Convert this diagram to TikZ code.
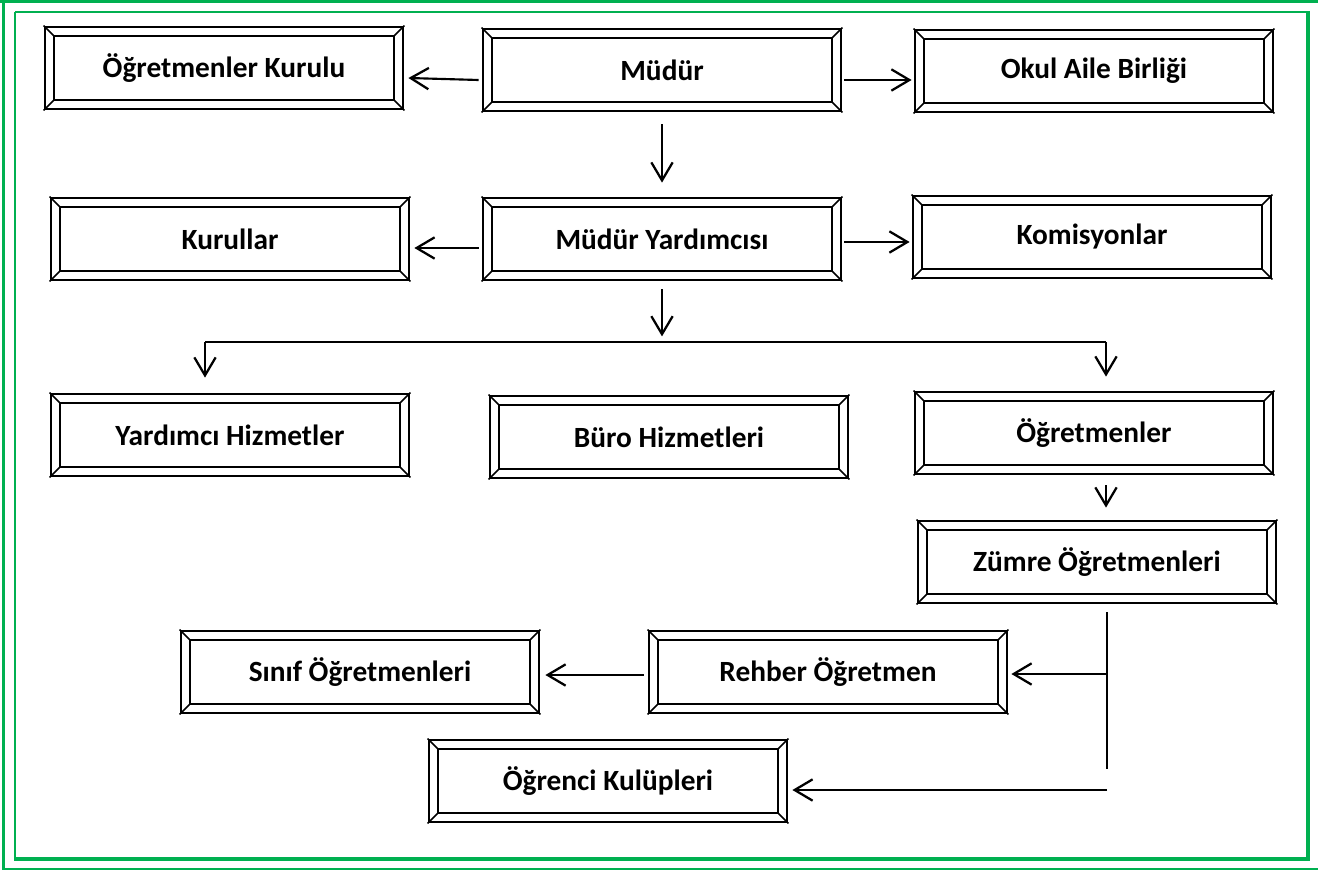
\documentclass[tikz,border=0pt]{standalone}
\usepackage{fontspec}
\setmainfont{Carlito}
\usetikzlibrary{arrows.meta}
\definecolor{frameGreen}{RGB}{0,176,80}
\newcommand\bevelbox[1]{%
  \draw[line width=1.9pt] ([shift={(10.5,10.5)}]#1.north west) rectangle ([shift={(-10.5,-10.5)}]#1.south east);
  \draw[line width=1.2pt] (#1.north west) -- ++(10.5,10.5);
  \draw[line width=1.2pt] (#1.north east) -- ++(-10.5,10.5);
  \draw[line width=1.2pt] (#1.south west) -- ++(10.5,-10.5);
  \draw[line width=1.2pt] (#1.south east) -- ++(-10.5,-10.5);
}
\begin{document}
\begin{tikzpicture}[x=0.75pt,y=-0.75pt,
  orgbox/.style={draw, line width=2.1pt, minimum width=268.5pt, minimum height=61.5pt,
    inner sep=0pt, font=\bfseries\fontsize{22}{24}\selectfont},
  arr/.style={line width=1.6pt, -{Straight Barb[length=13.5pt,width=16pt,line width=1.7pt]}},
  thinarr/.style={line width=1.3pt, -{Straight Barb[length=13.5pt,width=16pt,line width=1.7pt]}},
  thinline/.style={line width=1.1pt},
]
\useasboundingbox (0,0) rectangle (1318,870);
% page border
\draw[frameGreen, line width=2.2pt] (0,1.4) -- (1318,1.4);
\draw[frameGreen, line width=2.7pt] (3.6,0) -- (3.6,870);
\draw[frameGreen, line width=1pt] (3.6,869) -- (1318,869);
\draw[frameGreen, line width=1.6pt] (15,12) -- (15,858.7);
\draw[frameGreen, line width=1.6pt] (15,12) -- (1308,12);
\draw[frameGreen, line width=3pt] (1308,11) -- (1308,860.7);
\draw[frameGreen, line width=3pt] (14,858.7) -- (1310,858.7);

% boxes
\node[orgbox] (OK)  at (224,68)  {Öğretmenler Kurulu};
\node[orgbox] (MUD) at (662,70)  {Müdür};
\node[orgbox] (OAB) at (1094,71) {Okul Aile Birliği};
\node[orgbox] (KUR) at (230,239) {Kurullar};
\node[orgbox] (MY)  at (662,239) {Müdür Yardımcısı};
\node[orgbox] (KOM) at (1092,237) {Komisyonlar};
\node[orgbox] (YH)  at (230,435) {Yardımcı Hizmetler};
\node[orgbox] (BH)  at (669,437) {Büro Hizmetleri};
\node[orgbox] (OGR) at (1094,433) {Öğretmenler};
\node[orgbox] (ZUM) at (1097,562) {Zümre Öğretmenleri};
\node[orgbox] (SIN) at (360,672) {Sınıf Öğretmenleri};
\node[orgbox] (REH) at (828,672) {Rehber Öğretmen};
\node[orgbox] (KUL) at (608,781) {Öğrenci Kulüpleri};
\foreach \n in {OK,MUD,OAB,KUR,MY,KOM,YH,BH,OGR,ZUM,SIN,REH,KUL}{\bevelbox{\n}}

% connectors
\draw[arr] ([shift={(-3,10)}]MUD.west) -- ([shift={(4,10)}]OK.east);
\draw[arr] ([shift={(2,10)}]MUD.east) -- ([shift={(-2,9)}]OAB.west);
\draw[arr] ([shift={(0,12)}]MUD.south) -- ([shift={(0,-14)}]MY.north);
\draw[arr] ([shift={(-3,9)}]MY.west) -- ([shift={(4,9)}]KUR.east);
\draw[arr] ([shift={(2,3)}]MY.east) -- ([shift={(-2,5)}]KOM.west);
\draw[arr] ([shift={(0,8)}]MY.south) -- ([shift={(0,55)}]MY.south);

\coordinate (busL) at (205,342);
\coordinate (busR) at (1106,342);
\draw[thinline] (busL) -- (busR);
\draw[thinarr] (busL) -- ([shift={(0,-15)}]busL |- YH.north);
\draw[thinarr] (busR) -- ([shift={(0,-14)}]busR |- OGR.north);

\draw[arr] ([shift={(12,10)}]OGR.south) -- ([shift={(12,-12)}]OGR.south |- ZUM.north);

\coordinate (vTop) at (1107,612);
\coordinate (vBot) at (1107,769);
\coordinate (kulR) at (1107,790);
\draw[thinline] (vTop) -- (vBot);
\draw[arr] ([shift={(0,2)}]vTop |- REH.east) -- ([shift={(3,2)}]REH.east);
\draw[line width=1.8pt, -{Straight Barb[length=13.5pt,width=16pt,line width=1.7pt]}] (kulR) -- ([shift={(4,0)}]KUL.east |- kulR);
\draw[arr] ([shift={(-4,3)}]REH.west) -- ([shift={(5,3)}]SIN.east);
\end{tikzpicture}
\end{document}
